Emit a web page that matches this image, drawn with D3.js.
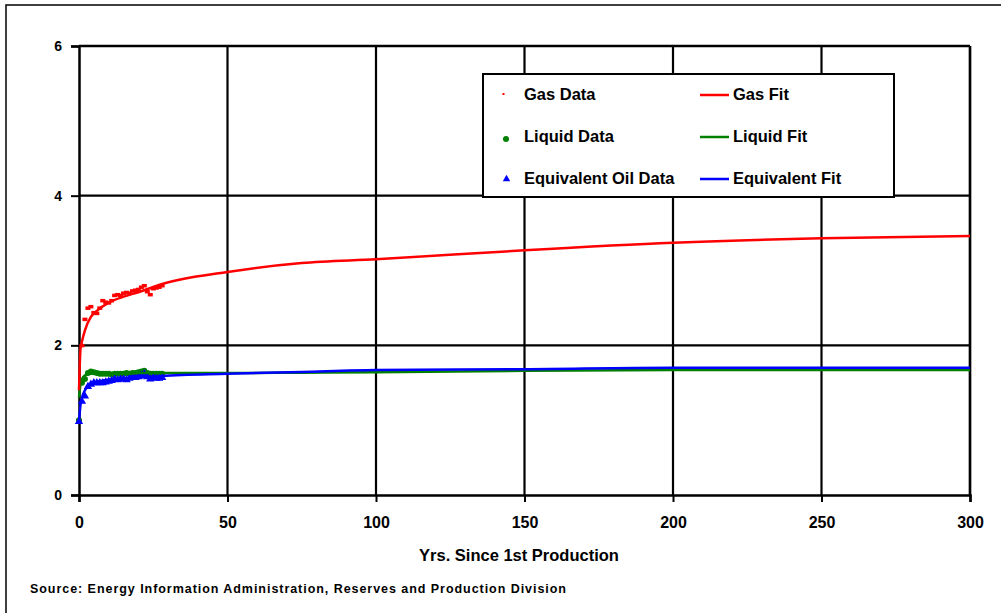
<!DOCTYPE html>
<html><head><meta charset="utf-8">
<script src="https://cdn.jsdelivr.net/npm/d3@7"></script>
<style>body{margin:0;background:#fff}svg{display:block}text{font-family:"Liberation Sans",Arial,sans-serif;font-weight:bold}</style>
</head><body>
<svg id="c" width="1003" height="613"></svg>
<script>
const xTicks=[0,50,100,150,200,250,300];
const yTicks=[0,2,4,6];
const years=[0,1,2,3,4,5,6,7,8,9,10,11,12,13,14,15,16,17,18,19,20,21,22,23,24,25,26,27,28];
const gasData=[1.0,2.0,2.35,2.5,2.52,2.44,2.43,2.5,2.6,2.58,2.57,2.6,2.67,2.68,2.67,2.7,2.71,2.7,2.73,2.74,2.75,2.78,2.8,2.72,2.68,2.76,2.77,2.78,2.8];
const liquidData=[1.0,1.5,1.55,1.63,1.65,1.64,1.63,1.62,1.62,1.62,1.62,1.61,1.62,1.62,1.62,1.62,1.63,1.62,1.63,1.63,1.64,1.65,1.66,1.63,1.62,1.62,1.62,1.62,1.62];
const eqData=[0.98,1.25,1.32,1.45,1.48,1.5,1.5,1.5,1.5,1.51,1.52,1.53,1.55,1.54,1.55,1.55,1.54,1.56,1.57,1.57,1.58,1.6,1.62,1.58,1.55,1.57,1.56,1.56,1.57];
const fitYears=[0,0.5,1,2,4,6,10,15,20,25,28,50,75,100,150,200,250,300];
const gasFit=[1.4,1.95,2.05,2.2,2.38,2.46,2.57,2.65,2.71,2.78,2.82,2.98,3.10,3.15,3.27,3.37,3.43,3.46];
const liquidFit=[1.3,1.48,1.55,1.6,1.62,1.62,1.62,1.62,1.63,1.63,1.63,1.63,1.635,1.64,1.66,1.67,1.67,1.67];
const eqFit=[0.98,1.2,1.3,1.4,1.48,1.51,1.54,1.56,1.57,1.58,1.59,1.62,1.645,1.67,1.68,1.7,1.7,1.7];
const legendLabels=[["Gas Data","Gas Fit"],["Liquid Data","Liquid Fit"],["Equivalent Oil Data","Equivalent Fit"]];
const xTitle="Yrs. Since 1st Production";
const source="Source: Energy Information Administration, Reserves and Production Division";

const svg=d3.select("#c");
const x=d3.scaleLinear().domain([0,300]).range([79,970]);
const y=d3.scaleLinear().domain([0,6]).range([495,46]);

// outer border
svg.append("path").attr("d","M6,613V5H1001").attr("fill","none").attr("stroke","#000").attr("stroke-width",1.5);

// gridlines
const g=svg.append("g");
g.selectAll(".vg").data(xTicks.filter(d=>d>0)).join("line").attr("x1",d=>x(d)).attr("x2",d=>x(d)).attr("y1",y(6)).attr("y2",y(0)).attr("stroke","#000").attr("stroke-width",2.2);
g.selectAll(".hg").data(yTicks.filter(d=>d>0)).join("line").attr("x1",x(0)).attr("x2",x(300)).attr("y1",d=>y(d)).attr("y2",d=>y(d)).attr("stroke","#000").attr("stroke-width",2.2);

// axes
const xa=svg.append("g").attr("transform",`translate(0,${y(0)})`).call(d3.axisBottom(x).tickValues(xTicks).tickSize(7).tickPadding(15).tickFormat(d3.format("d")));
const ya=svg.append("g").attr("transform",`translate(${x(0)},0)`).call(d3.axisLeft(y).tickValues(yTicks).tickSize(8).tickPadding(9).tickFormat(d3.format("d")));
[xa,ya].forEach(a=>{a.select(".domain").attr("stroke-width",2.5);a.selectAll(".tick line").attr("stroke-width",2);a.selectAll("text").attr("font-weight","bold").attr("font-family","Liberation Sans, Arial, sans-serif").attr("fill","#000");});
xa.selectAll("text").attr("font-size",16);
ya.selectAll("text").attr("font-size",14);
// top/right frame
svg.append("line").attr("x1",x(0)).attr("x2",x(300)).attr("y1",y(6)).attr("y2",y(6)).attr("stroke","#000").attr("stroke-width",2.5);
svg.append("line").attr("x1",x(300)).attr("x2",x(300)).attr("y1",y(6)).attr("y2",y(0)).attr("stroke","#000").attr("stroke-width",2.5);

const line=(vals)=>d3.line().x((d,i)=>x(fitYears[i])).y(d=>y(d)).curve(d3.curveMonotoneX)(vals);

// data points
const gasPts=years.map((t,i)=>[t,gasData[i]]);
svg.append("g").selectAll("rect").data(gasPts).join("rect").attr("x",d=>x(d[0])-2.5).attr("y",d=>y(d[1])-1.5).attr("width",5).attr("height",3.5).attr("fill","#f00");
svg.append("g").selectAll("circle").data(years.map((t,i)=>[t,liquidData[i]])).join("circle").attr("cx",d=>x(d[0])).attr("cy",d=>y(d[1])).attr("r",3).attr("fill","#008000");
const tri=d3.symbol().type(d3.symbolTriangle).size(30);
svg.append("g").selectAll("path").data(years.map((t,i)=>[t,eqData[i]])).join("path").attr("d",tri).attr("transform",d=>`translate(${x(d[0])},${y(d[1])})`).attr("fill","#00f");

// fits
svg.append("path").attr("d",line(liquidFit)).attr("fill","none").attr("stroke","#008000").attr("stroke-width",2.5);
svg.append("path").attr("d",line(eqFit)).attr("fill","none").attr("stroke","#00f").attr("stroke-width",2.5);
svg.append("path").attr("d",line(gasFit)).attr("fill","none").attr("stroke","#f00").attr("stroke-width",2.5);

// legend
const lg=svg.append("g");
lg.append("rect").attr("x",483).attr("y",74).attr("width",411).attr("height",123).attr("fill","#fff").attr("stroke","#000").attr("stroke-width",2);
const rowsY=[95,137,179];
const cols=["#f00","#008000","#00f"];
rowsY.forEach((ry,i)=>{
  if(i===0) lg.append("rect").attr("x",502.5).attr("y",ry-2).attr("width",2).attr("height",2).attr("fill",cols[i]);
  if(i===1) lg.append("circle").attr("cx",506).attr("cy",ry+2).attr("r",3).attr("fill",cols[i]);
  if(i===2) lg.append("path").attr("d",d3.symbol().type(d3.symbolTriangle).size(24)).attr("transform",`translate(506.5,${ry})`).attr("fill",cols[i]);
  lg.append("text").attr("x",524).attr("y",ry+5).attr("font-size",16.5).text(legendLabels[i][0]);
  lg.append("line").attr("x1",700).attr("x2",729).attr("y1",ry).attr("y2",ry).attr("stroke",cols[i]).attr("stroke-width",2.5);
  lg.append("text").attr("x",733).attr("y",ry+5).attr("font-size",16.5).text(legendLabels[i][1]);
});

svg.append("text").attr("x",519).attr("y",561).attr("text-anchor","middle").attr("font-size",16.5).text(xTitle);
svg.append("text").attr("x",30).attr("y",593).attr("font-size",12.5).attr("textLength",536).attr("lengthAdjust","spacing").text(source);
</script>
</body></html>
